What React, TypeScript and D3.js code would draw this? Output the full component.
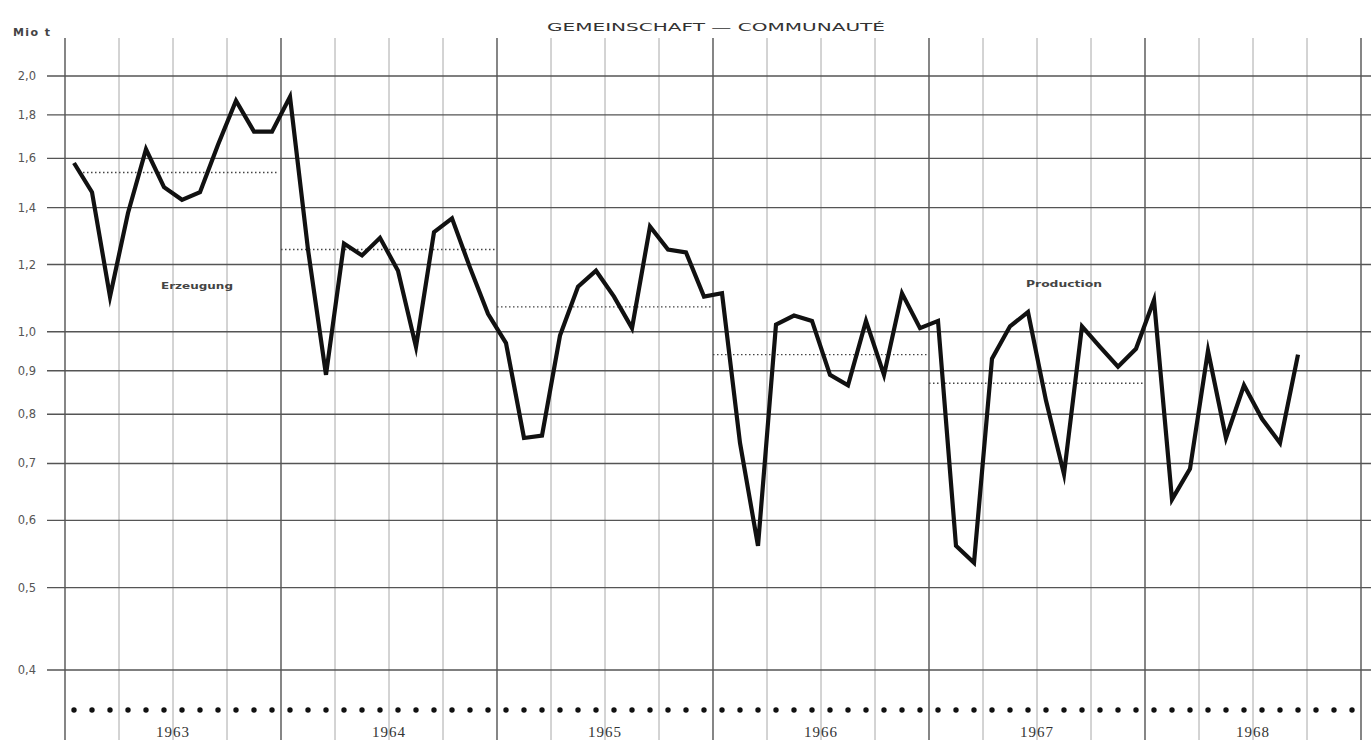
import React from "react";
import * as d3 from "d3";

const years = ["1963", "1964", "1965", "1966", "1967", "1968"];
const production = [
  1.58, 1.46, 1.10, 1.38, 1.64, 1.48, 1.43, 1.46, 1.66, 1.87, 1.72, 1.72,
  1.89, 1.25, 0.89, 1.27, 1.23, 1.29, 1.18, 0.96, 1.31, 1.36, 1.19, 1.05,
  0.97, 0.75, 0.755, 0.99, 1.13, 1.18, 1.10, 1.01, 1.33, 1.25, 1.24, 1.10,
  1.11, 0.74, 0.56, 1.02, 1.045, 1.03, 0.89, 0.865, 1.03, 0.89, 1.11, 1.01,
  1.03, 0.56, 0.535, 0.93, 1.015, 1.055, 0.83, 0.68, 1.015, 0.96, 0.91, 0.955,
  1.09, 0.635, 0.69, 0.95, 0.75, 0.865, 0.79, 0.74, 0.94,
];
const yearlyAverage = [1.54, 1.25, 1.07, 0.94, 0.87];
const yTicks = [0.4, 0.5, 0.6, 0.7, 0.8, 0.9, 1.0, 1.2, 1.4, 1.6, 1.8, 2.0];
const yTickLabels = ["0,4", "0,5", "0,6", "0,7", "0,8", "0,9", "1,0", "1,2", "1,4", "1,6", "1,8", "2,0"];

const W = 1371;
const H = 740;

export default function App() {
  const months = years.length * 12;
  const x = d3.scaleLinear().domain([0, months]).range([65, 1361]);
  const y = d3.scaleLog().domain([0.4, 2.0]).range([670, 76]);

  const line = d3
    .line<number>()
    .x((_, i) => x(i + 0.5))
    .y((d) => y(d));

  const quarterLines = d3.range(0, months + 1, 3).filter((m) => m % 12 !== 0);
  const yearLines = d3.range(0, months + 1, 12);

  return (
    <svg
      width={W}
      height={H}
      style={{ position: "absolute", left: 0, top: 0, background: "#fff" }}
      fontFamily="'DejaVu Sans', sans-serif"
    >
      <rect x={0} y={0} width={W} height={H} fill="#fff" />
      {/* quarter vertical lines */}
      {quarterLines.map((m) => (
        <line key={"q" + m} x1={x(m)} x2={x(m)} y1={38} y2={H} stroke="#a8a8a8" strokeWidth={1} />
      ))}
      {/* year vertical lines */}
      {yearLines.map((m) => (
        <line key={"y" + m} x1={x(m)} x2={x(m)} y1={38} y2={H} stroke="#444" strokeWidth={1.3} />
      ))}
      {/* horizontal gridlines */}
      {yTicks.map((t) => (
        <line key={"h" + t} x1={47} x2={W} y1={y(t)} y2={y(t)} stroke="#555" strokeWidth={1.4} />
      ))}
      {/* y tick labels */}
      {yTicks.map((t, i) => (
        <text key={"t" + t} x={36} y={y(t) + 4} textAnchor="end" fontSize={11.5} fill="#555">
          {yTickLabels[i]}
        </text>
      ))}
      <text x={13} y={36} fontSize={11} fontWeight="bold" fill="#444" textLength={37} lengthAdjust="spacing">
        Mio t
      </text>
      <text
        x={547}
        y={31}
        fontSize={11}
        fill="#333"
        textLength={338}
        lengthAdjust="spacingAndGlyphs"
      >
        GEMEINSCHAFT — COMMUNAUTÉ
      </text>
      {/* yearly averages */}
      {yearlyAverage.map((v, i) => (
        <line
          key={"a" + i}
          x1={x(i * 12) + (i === 0 ? 14 : 0)}
          x2={x(i * 12 + 12) - 2}
          y1={y(v)}
          y2={y(v)}
          stroke="#444"
          strokeWidth={1.4}
          strokeDasharray="1.5 2.5"
        />
      ))}
      {/* series */}
      <path d={line(production) || ""} fill="none" stroke="#111" strokeWidth={4.2} strokeLinejoin="miter" strokeMiterlimit={6} />
      {/* labels */}
      <text x={161} y={289} fontSize={9} fontWeight="bold" fill="#444" textLength={72} lengthAdjust="spacingAndGlyphs">
        Erzeugung
      </text>
      <text x={1026} y={287} fontSize={9} fontWeight="bold" fill="#444" textLength={76} lengthAdjust="spacingAndGlyphs">
        Production
      </text>
      {/* month dots */}
      {d3.range(months).map((m) => (
        <circle key={"d" + m} cx={x(m + 0.5)} cy={710} r={2.7} fill="#111" />
      ))}
      {/* year labels */}
      {years.map((yr, i) => (
        <text
          key={yr}
          x={x(i * 12 + 6)}
          y={737}
          textAnchor="middle"
          fontSize={15}
          letterSpacing={1}
          fontFamily="'Liberation Serif', serif"
          fill="#333"
        >
          {yr}
        </text>
      ))}
    </svg>
  );
}
